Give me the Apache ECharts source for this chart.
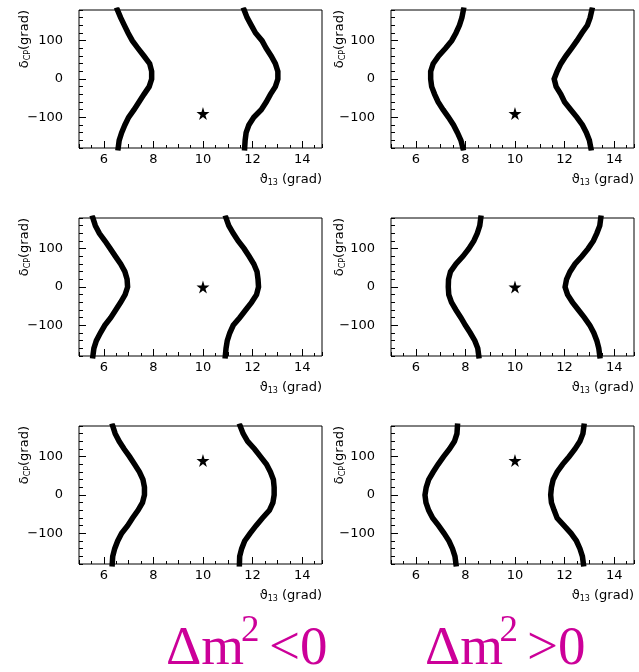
<!DOCTYPE html>
<html>
<head>
<meta charset="utf-8">
<script src="https://cdn.jsdelivr.net/npm/echarts@6/dist/echarts.min.js"></script>
<style>html,body{margin:0;padding:0;background:#fff}#c{width:639px;height:672px}</style>
</head>
<body>
<div id="c"></div>
<script>
// delta_CP sample values (grad), from -180 to 180
const deltaCP = [-180,-160,-140,-120,-100,-80,-60,-40,-20,0,20,40,60,80,100,120,140,160,180];
// theta13 of the contour curves (grad), one value per deltaCP entry
const p1Left  = [6.58,6.62,6.72,6.85,7.00,7.22,7.42,7.62,7.83,7.93,7.93,7.85,7.62,7.38,7.15,6.98,6.83,6.68,6.55];
const p1Right = [11.68,11.70,11.74,11.85,12.05,12.35,12.55,12.72,12.92,13.02,13.02,12.92,12.75,12.55,12.38,12.12,11.95,11.78,11.66];
const p2Left  = [7.90,7.82,7.68,7.52,7.32,7.10,6.90,6.76,6.64,6.60,6.60,6.70,6.92,7.20,7.45,7.62,7.76,7.86,7.92];
const p2Right = [13.06,13.00,12.88,12.72,12.50,12.25,12.00,11.85,11.66,11.58,11.70,11.85,12.05,12.28,12.50,12.70,12.92,13.03,13.10];
const p3Left  = [5.56,5.60,5.70,5.86,6.04,6.28,6.48,6.68,6.86,6.96,6.94,6.85,6.68,6.47,6.26,6.05,5.82,5.66,5.56];
const p3Right = [10.90,10.93,10.98,11.08,11.22,11.48,11.72,11.96,12.16,12.24,12.22,12.18,12.05,11.86,11.66,11.42,11.22,11.04,10.93];
const p4Left  = [8.54,8.50,8.38,8.20,8.00,7.82,7.62,7.44,7.33,7.31,7.32,7.40,7.62,7.90,8.14,8.34,8.48,8.58,8.62];
const p4Right = [13.42,13.38,13.30,13.18,13.02,12.80,12.56,12.32,12.12,12.02,12.08,12.22,12.42,12.70,12.95,13.16,13.30,13.42,13.46];
const p5Left  = [6.34,6.36,6.44,6.56,6.72,6.96,7.16,7.38,7.56,7.64,7.64,7.58,7.44,7.24,7.04,6.82,6.62,6.46,6.36];
const p5Right = [11.47,11.48,11.56,11.68,11.90,12.14,12.40,12.68,12.82,12.87,12.87,12.84,12.72,12.56,12.32,12.08,11.80,11.62,11.50];
const p6Left  = [7.62,7.58,7.48,7.34,7.14,6.92,6.68,6.52,6.41,6.37,6.42,6.52,6.70,6.90,7.12,7.36,7.56,7.66,7.68];
const p6Right = [12.76,12.72,12.62,12.48,12.26,11.98,11.70,11.58,11.47,11.44,11.47,11.54,11.70,11.92,12.18,12.42,12.62,12.74,12.78];
const panelCurves = [[p1Left,p1Right],[p2Left,p2Right],[p3Left,p3Right],[p4Left,p4Right],[p5Left,p5Right],[p6Left,p6Right]];
// true-value star per panel
const starTheta = [10,10,10,10,10,10];
const starDelta = [-90,-90,0,0,90,90];
// tick labels
const xTickLabels = [6,8,10,12,14];
const yTickLabels = [-100,0,100];
const xTitle = '{a|ϑ}{s|13}{a| (grad)}';
const yTitle = '{a|δ}{s|CP}{a|(grad)}';
const bottomLabels = [['Δm','2','<0'],['Δm','2','>0']];

const FONT = 'DejaVu Sans';
const colLeft = [79, 391];
const rowTop = [10, 218, 426];
const PW = 243, PH = 138;
const STAR = 'path://M50,0 L61,35 L98,35 L68,57 L79,91 L50,70 L21,91 L32,57 L2,35 L39,35 Z';

const grids = [], xAxes = [], yAxes = [], series = [], graphics = [];
for (let p = 0; p < 6; p++) {
  const col = p % 2, row = Math.floor(p / 2);
  const L = colLeft[col], T = rowTop[row];
  grids.push({left: L, top: T, width: PW, height: PH, show: true, borderColor: '#000', borderWidth: 1, backgroundColor: 'transparent'});
  // main x axis (minor ticks + labels)
  xAxes.push({gridIndex: p, type: 'value', min: 5, max: 14.8, interval: 1, position: 'bottom',
    axisLine: {show: false, onZero: false}, splitLine: {show: false},
    axisTick: {show: true, inside: true, length: 4, lineStyle: {color: '#000'}},
    minorTick: {show: true, splitNumber: 2, length: 3, lineStyle: {color: '#000'}},
    axisLabel: {margin: 5, color: '#000', fontFamily: FONT, fontSize: 13,
      formatter: v => xTickLabels.indexOf(v) >= 0 ? String(v) : ''}
  });
  // major x ticks
  xAxes.push({gridIndex: p, type: 'value', min: 5, max: 14.8, position: 'bottom',
    axisLine: {show: false, onZero: false}, splitLine: {show: false}, axisLabel: {show: false},
    axisTick: {show: true, inside: true, length: 7, customValues: xTickLabels, lineStyle: {color: '#000'}}
  });
  yAxes.push({gridIndex: p, type: 'value', min: -180, max: 180, interval: 20, position: 'left',
    axisLine: {show: false, onZero: false}, splitLine: {show: false},
    axisTick: {show: true, inside: true, length: 4, lineStyle: {color: '#000'}},
    axisLabel: {margin: 16, color: '#000', fontFamily: FONT, fontSize: 13,
      formatter: v => yTickLabels.indexOf(v) >= 0 ? (v < 0 ? '\u2212' + (-v) : String(v)) : ''}
  });
  yAxes.push({gridIndex: p, type: 'value', min: -180, max: 180, position: 'left', offset: 0,
    axisLine: {show: false, onZero: false}, splitLine: {show: false}, axisLabel: {show: false},
    axisTick: {show: true, inside: true, length: 7, customValues: yTickLabels, lineStyle: {color: '#000'}}
  });
  panelCurves[p].forEach(curve => {
    series.push({type: 'line', xAxisIndex: 2 * p, yAxisIndex: 2 * p, symbol: 'none', silent: true,
      lineStyle: {color: '#000', width: 5.5, cap: 'square', join: 'miter'},
      data: curve.map((x, i) => [x, deltaCP[i]])});
  });
  series.push({type: 'scatter', xAxisIndex: 2 * p, yAxisIndex: 2 * p, symbol: STAR, symbolSize: 13,
    itemStyle: {color: '#000', opacity: 1}, data: [[starTheta[p], starDelta[p]]]});
  // axis titles
  graphics.push({type: 'text', x: L + PW, y: T + PH + 32,
    style: {text: xTitle, align: 'right', verticalAlign: 'middle', fill: '#000',
      rich: {a: {fontFamily: FONT, fontSize: 13, fill: '#000'}, s: {fontFamily: FONT, fontSize: 8, fill: '#000', padding: [6, 0, 0, 0]}}}});
  graphics.push({type: 'text', x: L - (col ? 51 : 54), y: T, rotation: Math.PI / 2,
    style: {text: yTitle, align: 'right', verticalAlign: 'middle', fill: '#000',
      rich: {a: {fontFamily: FONT, fontSize: 13, fill: '#000'}, s: {fontFamily: FONT, fontSize: 8, fill: '#000', padding: [6, 0, 0, 0]}}}});
}
const MAG = '#cc0099';
const bx = [[166, 241, 269], [425, 499.5, 527]];
bottomLabels.forEach((lab, k) => {
  graphics.push({type: 'text', x: bx[k][0], y: 650, style: {text: lab[0], fontFamily: 'Liberation Serif', fontSize: 55, fill: MAG, verticalAlign: 'middle', align: 'left'}});
  graphics.push({type: 'text', x: bx[k][1], y: 631, style: {text: lab[1], fontFamily: 'Liberation Serif', fontSize: 37, fill: MAG, verticalAlign: 'middle', align: 'left'}});
  graphics.push({type: 'text', x: bx[k][2], y: 650, style: {text: lab[2], fontFamily: 'Liberation Serif', fontSize: 55, fill: MAG, verticalAlign: 'middle', align: 'left'}});
});

const chart = echarts.init(document.getElementById('c'), null, {renderer: 'canvas'});
chart.setOption({animation: false, backgroundColor: '#fff', grid: grids, xAxis: xAxes, yAxis: yAxes, series: series, graphic: graphics});
</script>
</body>
</html>
